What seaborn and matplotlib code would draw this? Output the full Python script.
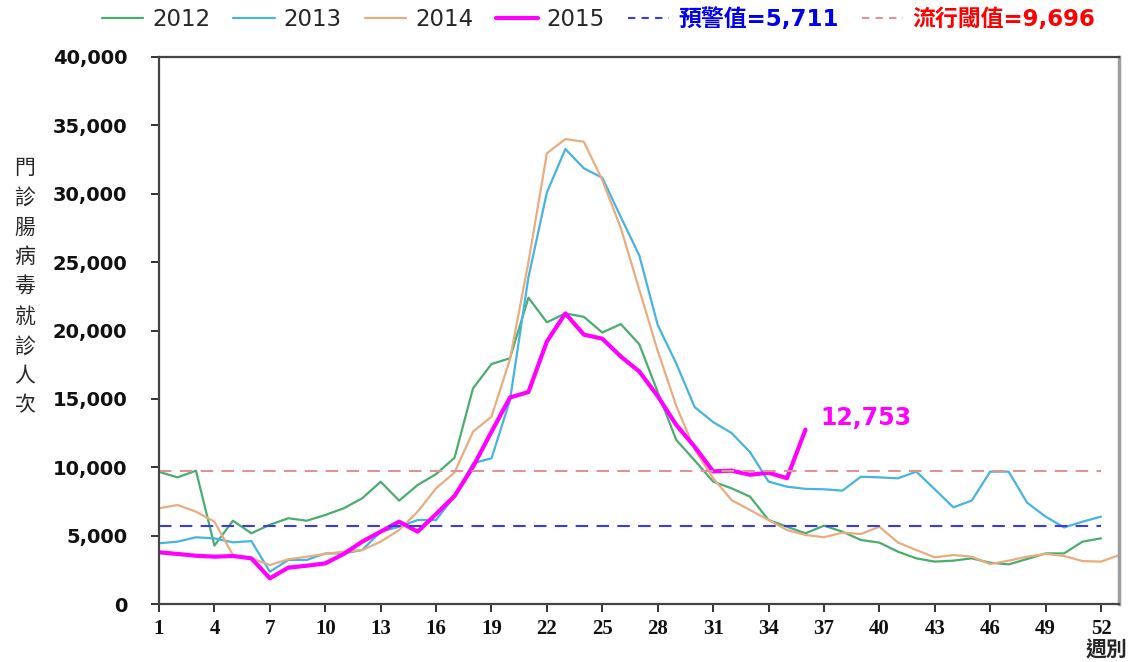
import numpy as np
import pandas as pd
import matplotlib
matplotlib.use("Agg")
import matplotlib.pyplot as plt
from matplotlib.lines import Line2D
import seaborn as sns

# weekly outpatient enterovirus visits (thousands)
v2012 = [9.67, 9.26, 9.75, 4.27, 6.09, 5.17, 5.8, 6.27, 6.09, 6.51, 7.0, 7.73, 8.94, 7.56, 8.7, 9.5,
         10.7, 15.77, 17.55, 17.97, 22.4, 20.6, 21.25, 21.0, 19.85, 20.47, 19.0, 15.5, 12.0, 10.5,
         8.95, 8.46, 7.85, 6.14, 5.65, 5.17, 5.73, 5.29, 4.68, 4.49, 3.83, 3.34, 3.1, 3.17, 3.34,
         3.02, 2.9, 3.29, 3.7, 3.7, 4.56, 4.8]
v2013 = [4.44, 4.56, 4.88, 4.8, 4.51, 4.6, 2.36, 3.22, 3.22, 3.7, 3.7, 3.95, 5.29, 5.65, 6.14, 6.14,
         7.9, 10.3, 10.65, 14.9, 23.9, 30.1, 33.27, 31.86, 31.17, 28.3, 25.5, 20.4, 17.6, 14.4,
         13.3, 12.5, 11.1, 8.95, 8.58, 8.42, 8.39, 8.29, 9.31, 9.26, 9.19, 9.68, 8.39, 7.07, 7.56,
         9.68, 9.68, 7.41, 6.39, 5.6, 6.02, 6.39]
v2014 = [7.0, 7.24, 6.75, 6.02, 3.58, 3.34, 2.85, 3.27, 3.46, 3.66, 3.83, 3.95, 4.56, 5.41, 6.75, 8.46,
         9.62, 12.6, 13.7, 17.9, 25.0, 32.96, 34.0, 33.8, 31.0, 27.5, 23.0, 18.5, 14.5, 11.3,
         9.2, 7.6, 6.87, 6.14, 5.41, 5.05, 4.88, 5.22, 5.12, 5.65, 4.5, 3.95, 3.41, 3.58, 3.46,
         2.92, 3.17, 3.46, 3.66, 3.51, 3.14, 3.1, 3.58]
v2015 = [3.78, 3.66, 3.53, 3.46, 3.51, 3.34, 1.88, 2.66, 2.8, 2.97, 3.66, 4.56, 5.29, 6.02, 5.29, 6.58,
         7.9, 10.04, 12.6, 15.1, 15.5, 19.2, 21.25, 19.7, 19.4, 18.1, 17.0, 15.2, 13.1, 11.5,
         9.7, 9.75, 9.45, 9.6, 9.2, 12.753]
warn_value = 5711
epi_value = 9696
xticks = list(range(1, 53, 3))
ylabel = "門診腸病毒就診人次"

series = {"2012": v2012, "2013": v2013, "2014": v2014, "2015": v2015}
colors = {"2012": "#4aad6e", "2013": "#47b3de", "2014": "#e9ac80", "2015": "#ff00ff"}
widths = {"2012": 1.6, "2013": 1.6, "2014": 1.6, "2015": 3.0}
warn_color = "#3a3ae8"
epi_color = "#dc9494"

sns.set_theme(style="ticks")
plt.rcParams['font.family'] = ['DejaVu Sans', 'Noto Sans CJK TC']

fig = plt.figure(figsize=(11.4, 6.62), dpi=100)
ax = fig.add_axes([0.1395, 0.0876, 0.8425, 0.8263])

for name, vals in series.items():
    df = pd.DataFrame({"week": np.arange(1, len(vals) + 1),
                       "visits": np.round(np.array(vals) * 1000)})
    sns.lineplot(data=df, x="week", y="visits", ax=ax, color=colors[name],
                 lw=widths[name], label=name)

ax.hlines(warn_value, 1, 52, colors=warn_color, linestyles=(0, (6, 4)), lw=1.5)
ax.hlines(epi_value, 1, 52, colors=epi_color, linestyles=(0, (6, 4)), lw=1.5)

last = int(round(v2015[-1] * 1000))
ax.text(36.8, 13600, f"{last:,}", color="#ff00ff", fontsize=17, fontweight="bold",
        ha="left", va="center")

ax.set_xlim(1, 53)
ax.set_ylim(0, 40000)
ax.set_xticks(xticks)
ax.set_yticks(range(0, 40001, 5000))
ax.set_yticklabels([f"{v:,}" for v in range(0, 40001, 5000)])
ax.set_xlabel("")
ax.set_ylabel("")
for lab in ax.get_yticklabels():
    lab.set_fontweight("bold")
    lab.set_fontsize(14)
for lab in ax.get_xticklabels():
    lab.set_family("Liberation Serif")
    lab.set_fontweight("bold")
    lab.set_fontsize(15)
ax.tick_params(axis="y", length=6, width=1.2, pad=17, colors="#111111")
ax.tick_params(axis="x", length=6, width=1.2, pad=5, colors="#111111")

for side in ["left", "bottom", "top"]:
    ax.spines[side].set_color("#444444")
    ax.spines[side].set_linewidth(1.6)
ax.spines["right"].set_color("#9d9d9d")
ax.spines["right"].set_linewidth(2.5)

handles, labels = ax.get_legend_handles_labels()
if ax.get_legend() is not None:
    ax.get_legend().remove()
handles += [Line2D([], [], color=warn_color, lw=1.5, linestyle=(0, (3.5, 3))),
            Line2D([], [], color=epi_color, lw=1.5, linestyle=(0, (3.5, 3)))]
labels += [f"預警值={warn_value:,}", f"流行閾值={epi_value:,}"]
leg = fig.legend(handles, labels, loc="center", bbox_to_anchor=(0.525, 0.97), ncol=6,
                 frameon=False, fontsize=16.5, handlelength=1.8, handletextpad=0.4,
                 columnspacing=1.0)
for txt in leg.get_texts():
    if txt.get_text().startswith("預"):
        txt.set_color("#0000ee")
        txt.set_fontweight("bold")
    elif txt.get_text().startswith("流"):
        txt.set_color("#ff0000")
        txt.set_fontweight("bold")

fig.text(25 / 1140, 1 - 287 / 662, "\n".join(ylabel), ha="center", va="center",
         fontsize=15, linespacing=1.45, family="Noto Sans CJK TC")
fig.text(1107 / 1140, 1 - 650 / 662, "週別", ha="center", va="center",
         fontsize=15, fontweight="bold", family="Noto Sans CJK TC")

fig.savefig("out.png", dpi=100)
